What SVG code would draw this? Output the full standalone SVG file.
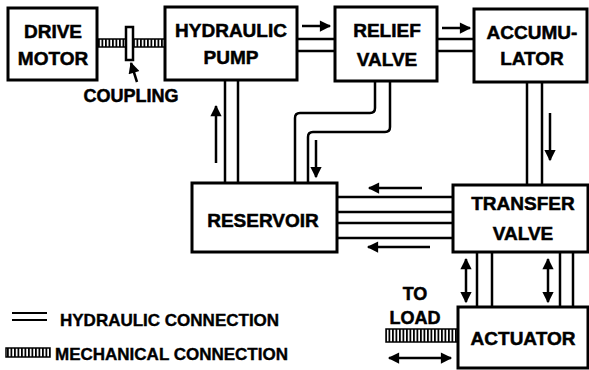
<svg xmlns="http://www.w3.org/2000/svg" width="589" height="370" viewBox="0 0 589 370">
<defs>
<style>
.box{fill:#fff;stroke:#000;stroke-width:3}
.ln{fill:none;stroke:#000;stroke-width:2.5}
.ar{fill:none;stroke:#000;stroke-width:2.5}
.t{font-family:"Liberation Sans",Arial,sans-serif;font-weight:bold;font-size:19px;text-anchor:middle;fill:#000;stroke:#000;stroke-width:0.5}
.lg{font-family:"Liberation Sans",Arial,sans-serif;font-weight:bold;font-size:17px;fill:#000;stroke:#000;stroke-width:0.4}
.sh{fill:url(#hatch);stroke:#000;stroke-width:1.5}
</style>
<pattern id="hatch" width="3.5" height="10" patternUnits="userSpaceOnUse">
<rect width="3.5" height="10" fill="#fff"/>
<rect width="1.8" height="10" fill="#000"/>
</pattern>
<marker id="ah" viewBox="0 0 10 10" refX="9" refY="5" markerWidth="5" markerHeight="4.5" orient="auto-start-reverse" markerUnits="strokeWidth">
<path d="M0,0 L10,5 L0,10 Z" fill="#000"/>
</marker>
</defs>

<g id="connectors">
<!-- mechanical: motor to pump -->
<rect class="sh" x="97" y="39" width="29" height="8"/>
<rect class="sh" x="133" y="39" width="32" height="8"/>
<rect x="126" y="27" width="7" height="33" fill="#fff" stroke="#000" stroke-width="2.5"/>
<line class="ar" x1="137" y1="82" x2="131" y2="63" marker-end="url(#ah)"/>
<!-- pump to relief -->
<line class="ln" x1="297" y1="39" x2="335" y2="39"/>
<line class="ln" x1="297" y1="51" x2="335" y2="51"/>
<line class="ar" x1="302" y1="26" x2="330" y2="26" marker-end="url(#ah)"/>
<!-- relief to accumulator -->
<line class="ln" x1="437" y1="39" x2="474" y2="39"/>
<line class="ln" x1="437" y1="51" x2="474" y2="51"/>
<line class="ar" x1="442" y1="28" x2="470" y2="28" marker-end="url(#ah)"/>
<!-- pump to reservoir -->
<line class="ln" x1="225" y1="80" x2="225" y2="183"/>
<line class="ln" x1="238" y1="80" x2="238" y2="183"/>
<line class="ar" x1="216" y1="163" x2="216" y2="106" marker-end="url(#ah)"/>
<!-- relief to reservoir -->
<path class="ln" d="M375,81 V108 Q375,113 370,113 H300 Q295,113 295,118 V183"/>
<path class="ln" d="M390,81 V127 Q390,132 385,132 H313 Q308,132 308,137 V183"/>
<line class="ar" x1="316" y1="140" x2="316" y2="177" marker-end="url(#ah)"/>
<!-- accumulator to transfer -->
<line class="ln" x1="527" y1="82" x2="527" y2="185"/>
<line class="ln" x1="542" y1="82" x2="542" y2="185"/>
<line class="ar" x1="550" y1="113" x2="550" y2="160" marker-end="url(#ah)"/>
<!-- transfer to reservoir -->
<line class="ln" x1="337" y1="197" x2="453" y2="197"/>
<line class="ln" x1="337" y1="212" x2="453" y2="212"/>
<line class="ln" x1="337" y1="223" x2="453" y2="223"/>
<line class="ln" x1="337" y1="238" x2="453" y2="238"/>
<line class="ar" x1="422" y1="188" x2="369" y2="188" marker-end="url(#ah)"/>
<line class="ar" x1="430" y1="247" x2="368" y2="247" marker-end="url(#ah)"/>
<!-- transfer to actuator -->
<line class="ln" x1="477" y1="252" x2="477" y2="307"/>
<line class="ln" x1="492" y1="252" x2="492" y2="307"/>
<line class="ln" x1="560" y1="252" x2="560" y2="307"/>
<line class="ln" x1="573" y1="252" x2="573" y2="307"/>
<line class="ar" x1="466" y1="259" x2="466" y2="302" marker-start="url(#ah)" marker-end="url(#ah)"/>
<line class="ar" x1="548" y1="259" x2="548" y2="302" marker-start="url(#ah)" marker-end="url(#ah)"/>
<!-- actuator to load -->
<rect class="sh" x="386" y="329" width="72" height="13"/>
<line class="ar" x1="389" y1="358" x2="451" y2="358" marker-start="url(#ah)" marker-end="url(#ah)"/>
</g>

<g id="drive-motor">
<rect class="box" x="8" y="8" width="89" height="72"/>
<text class="t" x="53" y="38">DRIVE</text>
<text class="t" x="53" y="65">MOTOR</text>
</g>
<g id="hydraulic-pump">
<rect class="box" x="165" y="7" width="132" height="73"/>
<text class="t" x="231" y="37">HYDRAULIC</text>
<text class="t" x="231" y="64">PUMP</text>
</g>
<g id="relief-valve">
<rect class="box" x="335" y="7" width="102" height="74"/>
<text class="t" x="387" y="37">RELIEF</text>
<text class="t" x="387" y="66">VALVE</text>
</g>
<g id="accumulator">
<rect class="box" x="474" y="9" width="113" height="73"/>
<text class="t" x="532" y="39">ACCUMU-</text>
<text class="t" x="532" y="65">LATOR</text>
</g>
<g id="reservoir">
<rect class="box" x="192" y="183" width="145" height="69"/>
<text class="t" x="263" y="227">RESERVOIR</text>
</g>
<g id="transfer-valve">
<rect class="box" x="453" y="185" width="135" height="67"/>
<text class="t" x="523" y="210">TRANSFER</text>
<text class="t" x="523" y="240">VALVE</text>
</g>
<g id="actuator">
<rect class="box" x="458" y="307" width="130" height="61"/>
<text class="t" x="523" y="345">ACTUATOR</text>
</g>
<g id="labels">
<text class="t" x="131" y="102" style="font-size:18px">COUPLING</text>
<text class="t" x="415" y="300" style="font-size:18px">TO</text>
<text class="t" x="415" y="324" style="font-size:18px">LOAD</text>
</g>
<g id="legend">
<line class="ln" x1="12" y1="313" x2="47" y2="313" style="stroke-width:2"/>
<line class="ln" x1="12" y1="320" x2="47" y2="320" style="stroke-width:2"/>
<text class="lg" x="60" y="326">HYDRAULIC CONNECTION</text>
<rect class="sh" x="6" y="348" width="44" height="9"/>
<text class="lg" x="55" y="360">MECHANICAL CONNECTION</text>
</g>
</svg>
